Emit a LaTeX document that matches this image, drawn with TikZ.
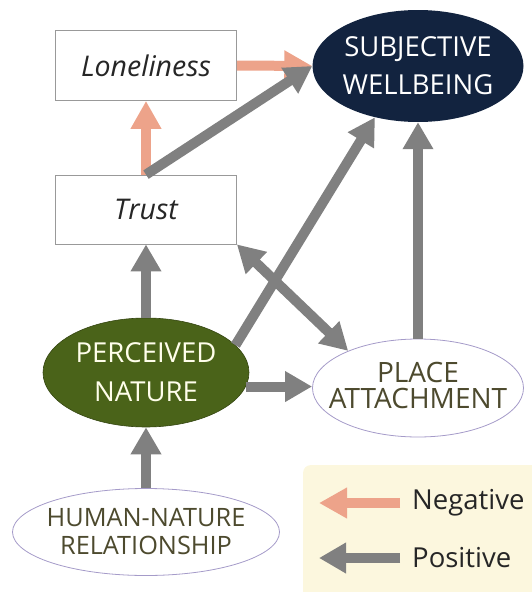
\documentclass[tikz,border=0pt]{standalone}
\usepackage{fontspec}
\setmainfont{Open Sans}
\usetikzlibrary{arrows.meta,shapes.geometric}
\definecolor{navy}{HTML}{12233F}
\definecolor{moss}{HTML}{4A6319}
\definecolor{arrowgray}{HTML}{808080}
\definecolor{salmon}{HTML}{EDA38A}
\definecolor{rim}{HTML}{A59BC9}
\definecolor{inkolive}{HTML}{4D4A2E}
\definecolor{cream}{HTML}{FCF7DE}
\tikzset{
  boxnode/.style={draw=black!40, line width=0.8pt, fill=white, minimum width=181pt,
    minimum height=70pt, inner sep=0pt, text=black!85,
    font=\fontsize{28.5}{32}\selectfont\itshape},
  ovalnode/.style={ellipse, inner sep=0pt},
  ovaltext/.style={inner sep=0pt, align=center},
  posarrow/.style={draw=arrowgray, line width=10pt,
    -{Triangle[width=29pt,length=27pt]}},
  posboth/.style={draw=arrowgray, line width=10pt,
    {Triangle[width=29pt,length=27pt]}-{Triangle[width=29pt,length=27pt]}},
  negarrow/.style={draw=salmon, line width=10pt,
    -{Triangle[width=29pt,length=28pt]}},
}
\begin{document}
\begin{tikzpicture}[x=1pt,y=-1pt]
\useasboundingbox (0,0) rectangle (531,592);

% legend panel
\fill[cream, rounded corners=8pt] (303,465) rectangle (545,610);

% boxes
\node[boxnode] (lone) at (146,65.5) {Loneliness};
\node[boxnode, minimum height=69pt] (trust) at (146,209.5) {Trust};

% ovals (shape first, caption on top)
\node[ovalnode, fill=navy, minimum width=211pt, minimum height=112pt] (sw) at (418,66) {};
\node[ovaltext, text=white, font=\fontsize{27.5}{38}\selectfont] (swtext) at (sw)
  {SUBJECTIVE\\WELLBEING};
\node[ovalnode, fill=moss, draw=moss!70!black, line width=0.6pt,
  minimum width=206pt, minimum height=109pt] (pn) at (146,372.5) {};
\node[ovaltext, text=white!92!yellow, font=\fontsize{27.5}{39}\selectfont] (pntext) at (pn)
  {PERCEIVED\\NATURE};
\node[ovalnode, fill=white, draw=rim, line width=0.8pt,
  minimum width=211pt, minimum height=98pt] (pa) at (418,388) {};
\node[ovaltext, text=inkolive, font=\fontsize{28}{26}\selectfont] (patext) at ([yshift=3pt]pa.center)
  {PLACE\\ATTACHMENT};
\node[ovalnode, fill=white, draw=rim, line width=0.8pt,
  minimum width=267pt, minimum height=87pt] (hn) at (146,532) {};
\node[ovaltext, text=inkolive, font=\fontsize{25.3}{28}\selectfont] (hntext) at (hn)
  {HUMAN-NATURE\\RELATIONSHIP};

% negative paths
\draw[negarrow] (trust.north) -- (lone.south);
\draw[negarrow] (lone.east) -- (sw.west);

% positive paths
\draw[posarrow] (trust.north) -- (sw.west);
\draw[posarrow] (pn.17) -- (sw.230);
\draw[posarrow] (pa.north) -- (sw.south);
\draw[posarrow] (pn.north) -- (trust.south);
\draw[posboth] (trust.south east) -- (pa.152);
\draw[posarrow] (pn.-8) -- (pn.-8 -| pa.west);
\draw[posarrow] (hn.north) -- (pn.south);

% legend
\coordinate (negtail) at (400,503);
\coordinate (negtip) at (319,503);
\coordinate (postail) at (400,558);
\coordinate (postip) at (319,558);
\draw[negarrow] (negtail) -- (negtip);
\draw[posarrow] (postail) -- (postip);
\node[anchor=west, text=black!85, font=\fontsize{27.5}{30}\selectfont, inner sep=0pt]
  (negtext) at (412,503) {Negative};
\node[anchor=west, text=black!85, font=\fontsize{27.5}{30}\selectfont, inner sep=0pt]
  (postext) at (412,558) {Positive};
\end{tikzpicture}
\end{document}
